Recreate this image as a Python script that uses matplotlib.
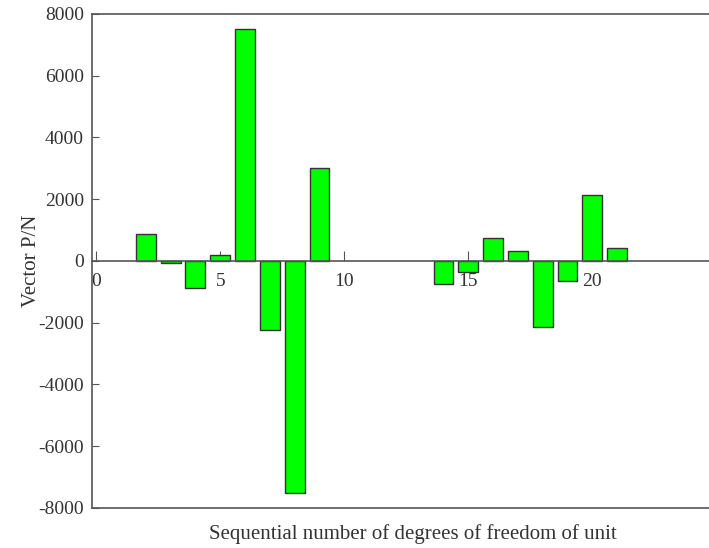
import matplotlib
matplotlib.use("Agg")
import matplotlib.pyplot as plt

plt.rcParams["font.family"] = ["Liberation Serif", "DejaVu Serif"]
plt.rcParams["axes.unicode_minus"] = False

# nodal force vector component per degree of freedom
DOF = list(range(1, 25))
FORCE = [0, 880, -80, -880, 200, 7500, -2250, -7500, 3000, 0, 0, 0, 0,
         -730, -370, 760, 310, -2150, -650, 2150, 430, 0, 0, 0]
X_TICKS = [0, 5, 10, 15, 20]
Y_TICKS = list(range(-8000, 8001, 2000))


def main() -> None:
    fig = plt.figure(figsize=(7.09, 5.48), dpi=100)
    ax = fig.add_axes([0.13, 0.073, 0.87, 0.9015])

    # zero entries carry no bar
    pairs = [(d, f) for d, f in zip(DOF, FORCE) if f != 0]
    ax.bar([d for d, _ in pairs], [f for _, f in pairs], width=0.8,
           color="#00ff00", edgecolor="#333333", linewidth=1.0, zorder=2)

    ax.set_xlim(-0.16, 24.7)
    ax.set_ylim(-8000, 8000)

    # x axis runs through zero, frame drawn separately
    ax.spines["bottom"].set_position(("data", 0))
    ax.spines["right"].set_visible(False)
    for name in ["bottom", "left", "top"]:
        ax.spines[name].set_color("#555555")
        ax.spines[name].set_linewidth(1.2)
    ax.plot([0, 1], [0, 0], transform=ax.transAxes, color="#555555",
            linewidth=1.2, clip_on=False)

    ax.set_xticks(X_TICKS)
    ax.set_yticks(Y_TICKS)
    ax.tick_params(axis="x", direction="in", length=7, width=0.8,
                   colors="#555555", labelcolor="#333333", labelsize=14, pad=9)
    ax.tick_params(axis="y", direction="in", length=5, width=0.8,
                   colors="#555555", labelcolor="#333333", labelsize=14, pad=6)

    ax.set_ylabel("Vector P/N", fontsize=15, color="#333333", labelpad=-2)
    fig.text(0.583, 0.025, "Sequential number of degrees of freedom of unit",
             ha="center", va="center", fontsize=15, color="#333333")

    fig.savefig("out.png", dpi=100)
    plt.close(fig)


if __name__ == "__main__":
    main()
